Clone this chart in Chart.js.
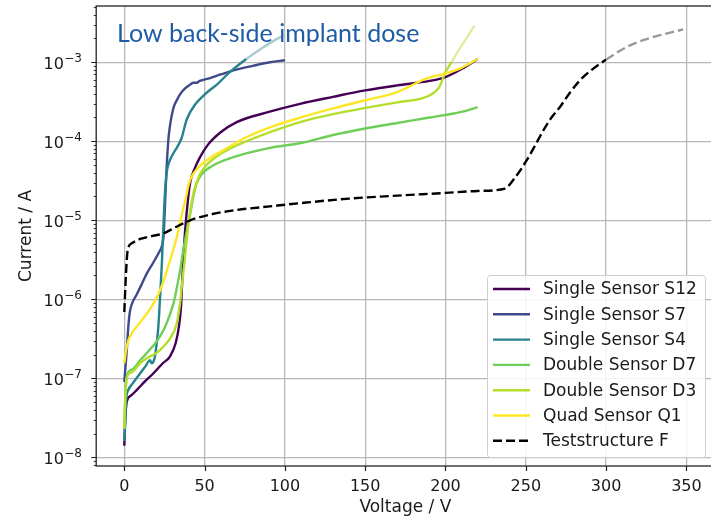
<!DOCTYPE html>
<html>
<head>
<meta charset="utf-8">
<script src="https://cdn.jsdelivr.net/npm/chart.js@4.4.1/dist/chart.umd.min.js"></script>
<style>
  html, body { margin: 0; padding: 0; background: #fff; overflow: hidden; }
  #ivChart { display: block; }
</style>
</head>
<body>
<canvas id="ivChart" width="720" height="518"></canvas>
<script>
// IV curves, voltage in V, current in A
const s12Voltage = [0, 0.4, 1.5, 4, 8, 13, 18, 24, 28.5, 32, 34, 35.3, 36, 37, 38.2, 39.5, 41, 44, 47, 52, 60, 70, 90, 110, 130, 150, 170, 190, 200, 210, 220]
const s12Current = [1.4e-8, 2.5e-8, 5e-8, 6e-8, 7.2e-8, 9.2e-8, 1.15e-7, 1.55e-7, 1.9e-7, 2.8e-7, 4.5e-7, 8e-7, 1.6e-6, 4e-6, 9e-6, 1.7e-5, 3e-5, 4.6e-5, 6.2e-5, 9e-5, 1.3e-4, 1.75e-4, 2.35e-4, 3e-4, 3.65e-4, 4.4e-4, 5.1e-4, 5.8e-4, 6.5e-4, 8.2e-4, 1.1e-3]

const s7Voltage = [0, 0.6, 1.5, 2.5, 3.5, 5, 7.7, 10.5, 13.9, 18, 21.2, 23.5, 24.5, 25.3, 26.2, 27.4, 28.5, 29.5, 31, 33, 35, 38, 40.9, 43, 45, 47, 53.4, 60, 67.9, 80, 90.7, 100]
const s7Current = [9e-8, 1.3e-7, 2.2e-7, 4.5e-7, 7e-7, 9e-7, 1.15e-6, 1.5e-6, 2.1e-6, 2.9e-6, 3.8e-6, 4.8e-6, 6.5e-6, 1.5e-5, 4e-5, 1.03e-4, 1.6e-4, 2.1e-4, 2.8e-4, 3.4e-4, 4e-4, 4.7e-4, 5.2e-4, 5.5e-4, 5.5e-4, 5.8e-4, 6.3e-4, 7e-4, 7.9e-4, 9e-4, 1.0e-3, 1.06e-3]

const s4Voltage = [0, 0.4, 1.2, 2.5, 5, 9.8, 13, 16, 17, 18, 19.1, 20.2, 21.2, 22.2, 23.3, 24.3, 25.3, 26.4, 28, 30.5, 33, 35.7, 38.9, 44, 50, 58, 66, 76, 86.6, 99]
const s4Current = [1.6e-8, 2.3e-8, 5.5e-8, 7.1e-8, 8.5e-8, 1.15e-7, 1.4e-7, 1.7e-7, 1.55e-7, 1.6e-7, 1.9e-7, 2.8e-7, 4.5e-7, 1e-6, 2.6e-6, 8e-6, 2.2e-5, 4e-5, 5.5e-5, 7e-5, 8.5e-5, 1.1e-4, 1.9e-4, 2.9e-4, 3.9e-4, 5.3e-4, 7.6e-4, 1.1e-3, 1.55e-3, 2.2e-3]

const d7Voltage = [0, 0.5, 1.5, 5, 10, 15, 20, 25, 28.5, 31, 33, 35, 37, 39, 41, 43, 45, 48, 55, 68, 90, 110, 130, 150, 170, 190, 200, 210, 220]
const d7Current = [2.3e-8, 5e-8, 1.05e-7, 1.3e-7, 1.7e-7, 2.2e-7, 2.9e-7, 4.3e-7, 6.5e-7, 9.5e-7, 1.5e-6, 2.5e-6, 4.5e-6, 7.5e-6, 1.2e-5, 2e-5, 2.9e-5, 3.8e-5, 4.9e-5, 6.3e-5, 8.2e-5, 9.5e-5, 1.2e-4, 1.45e-4, 1.7e-4, 2e-4, 2.15e-4, 2.35e-4, 2.7e-4]

const d3Voltage = [0, 0.5, 1.5, 5, 9.8, 15, 20.2, 25, 28.5, 32.6, 34.7, 36, 37.5, 39, 41, 43, 45, 47, 50, 57, 66, 90.7, 110, 130, 150, 170, 190, 196, 200, 204, 208, 213, 218]
const d3Current = [2.3e-8, 5e-8, 1e-7, 1.2e-7, 1.55e-7, 1.85e-7, 2.1e-7, 2.6e-7, 3.2e-7, 4.9e-7, 8.9e-7, 1.6e-6, 3e-6, 6e-6, 1.3e-5, 2.2e-5, 3e-5, 3.8e-5, 4.7e-5, 6.3e-5, 8.1e-5, 1.3e-4, 1.76e-4, 2.2e-4, 2.65e-4, 3.1e-4, 3.8e-4, 4.8e-4, 7.5e-4, 1.02e-3, 1.4e-3, 2e-3, 2.9e-3]

const q1Voltage = [0, 1, 2.5, 5, 7.7, 12, 16, 20.2, 24, 27, 30.5, 33, 35, 36.7, 38.5, 40, 42, 45, 50, 61.6, 75, 90.7, 110, 130, 150, 170, 188, 200, 210, 220]
const q1Current = [1.55e-7, 2.2e-7, 3e-7, 3.8e-7, 4.5e-7, 5.8e-7, 7.5e-7, 1.05e-6, 1.6e-6, 2.5e-6, 4.2e-6, 6.5e-6, 1e-5, 1.4e-5, 2e-5, 2.8e-5, 3.6e-5, 4.4e-5, 5.5e-5, 7.7e-5, 1.1e-4, 1.5e-4, 2e-4, 2.6e-4, 3.3e-4, 4.2e-4, 6.2e-4, 7.2e-4, 8.5e-4, 1.1e-3]

const testVoltage = [0, 1, 2.1, 4.6, 10, 17, 24.3, 32, 41, 55, 70, 90.7, 110, 140, 170, 200, 220, 237, 243, 250.6, 256, 261, 266, 271.3, 277, 283.7, 292, 300, 312.8, 323, 333.6, 348]
const testCurrent = [6.9e-7, 2e-6, 4.2e-6, 5.1e-6, 5.8e-6, 6.3e-6, 6.8e-6, 8.2e-6, 1e-5, 1.2e-5, 1.35e-5, 1.5e-5, 1.65e-5, 1.88e-5, 2.05e-5, 2.22e-5, 2.35e-5, 2.52e-5, 3.4e-5, 5.75e-5, 9e-5, 1.38e-4, 2e-4, 2.72e-4, 4e-4, 5.9e-4, 8.3e-4, 1.08e-3, 1.56e-3, 1.9e-3, 2.2e-3, 2.6e-3]

const xTickValues = [0, 50, 100, 150, 200, 250, 300, 350]
const yTickValues = [1e-8, 1e-7, 1e-6, 1e-5, 1e-4, 1e-3]

const FONT = 'DejaVu Sans'
const TEXT = '#1a1a1a'

const toPoints = (xs, ys) => xs.map((v, i) => ({ x: v, y: ys[i] }))

// faded part of a curve (beyond compliance), drawn lighter
const fadeSegment = (voltage, color) => ctx => (ctx.p0.parsed.x >= voltage ? color : undefined)

const datasets = [
	{ label: 'Single Sensor S12', data: toPoints(s12Voltage, s12Current), borderColor: '#440154' },
	{ label: 'Single Sensor S7', data: toPoints(s7Voltage, s7Current), borderColor: '#3e4a89' },
	{
		label: 'Single Sensor S4',
		data: toPoints(s4Voltage, s4Current),
		borderColor: '#26828e',
		segment: { borderColor: fadeSegment(76, '#a9cbd0') },
	},
	{ label: 'Double Sensor D7', data: toPoints(d7Voltage, d7Current), borderColor: '#6ece58' },
	{
		label: 'Double Sensor D3',
		data: toPoints(d3Voltage, d3Current),
		borderColor: '#b5de2b',
		segment: { borderColor: fadeSegment(204, '#dcef9e') },
	},
	{ label: 'Quad Sensor Q1', data: toPoints(q1Voltage, q1Current), borderColor: '#fde725' },
	{
		label: 'Teststructure F',
		data: toPoints(testVoltage, testCurrent),
		borderColor: '#000000',
		borderDash: [9, 4],
		segment: { borderColor: fadeSegment(300, '#999999') },
	},
]
datasets.forEach((ds, i) => {
	ds.order = datasets.length - i
})

// spines, tick marks and 10^n labels like matplotlib
const framePlugin = {
	id: 'frame',
	afterDraw(chart) {
		const { ctx, chartArea: a, scales } = chart
		const x = scales.x
		const y = scales.y
		ctx.save()
		ctx.strokeStyle = '#222'
		ctx.lineWidth = 1.2
		ctx.beginPath()
		xTickValues.forEach(v => {
			const px = Math.round(x.getPixelForValue(v)) + 0.5
			ctx.moveTo(px, a.bottom)
			ctx.lineTo(px, a.bottom + 5)
		})
		yTickValues.forEach(v => {
			const py = Math.round(y.getPixelForValue(v)) + 0.5
			ctx.moveTo(a.left - 5, py)
			ctx.lineTo(a.left, py)
		})
		ctx.stroke()
		ctx.lineWidth = 0.9
		ctx.beginPath()
		for (let e = -9; e <= -3; e++) {
			for (let m = 2; m <= 9; m++) {
				const v = m * Math.pow(10, e)
				if (v < y.min || v > y.max) continue
				const py = Math.round(y.getPixelForValue(v)) + 0.5
				ctx.moveTo(a.left - 2.5, py)
				ctx.lineTo(a.left, py)
			}
		}
		ctx.stroke()
		ctx.lineWidth = 1.3
		ctx.strokeRect(a.left, a.top, a.right - a.left, a.bottom - a.top)

		// y tick labels: 10 with raised exponent
		ctx.fillStyle = TEXT
		ctx.textAlign = 'right'
		ctx.textBaseline = 'alphabetic'
		yTickValues.forEach(v => {
			const py = y.getPixelForValue(v)
			const exp = '\u2212' + String(Math.abs(Math.round(Math.log10(v))))
			ctx.font = `12px "${FONT}"`
			const ew = ctx.measureText(exp).width
			ctx.fillText(exp, 82, py - 0.5)
			ctx.font = `16px "${FONT}"`
			ctx.fillText('10', 82 - ew - 0.5, py + 6.5)
		})
		ctx.restore()
	},
}

const notePlugin = {
	id: 'note',
	afterDraw(chart) {
		const { ctx } = chart
		ctx.save()
		ctx.font = '25px Lato'
		ctx.fillStyle = '#1f5ca6'
		ctx.textBaseline = 'alphabetic'
		ctx.fillText('Low back-side implant dose', 117, 42)
		ctx.restore()
	},
}

const legendPlugin = {
	id: 'boxLegend',
	afterDraw(chart) {
		const { ctx } = chart
		const left = 487
		const top = 275
		const w = 218
		const h = 182
		const rowH = 25.3
		ctx.save()
		ctx.fillStyle = 'rgba(255,255,255,0.85)'
		ctx.strokeStyle = '#d0d0d0'
		ctx.lineWidth = 1
		ctx.beginPath()
		ctx.roundRect(left + 0.5, top + 0.5, w, h, 3)
		ctx.fill()
		ctx.stroke()
		ctx.font = `17px "${FONT}"`
		ctx.textBaseline = 'middle'
		chart.data.datasets.forEach((ds, i) => {
			const cy = top + 14 + i * rowH
			ctx.strokeStyle = ds.borderColor
			ctx.lineWidth = 2.4
			ctx.setLineDash(ds.borderDash || [])
			ctx.beginPath()
			ctx.moveTo(left + 6, cy)
			ctx.lineTo(left + 43, cy)
			ctx.stroke()
			ctx.setLineDash([])
			ctx.fillStyle = TEXT
			ctx.fillText(ds.label, left + 56, cy + 1)
		})
		ctx.restore()
	},
}

const config = {
	type: 'line',
	data: { datasets },
	options: {
		responsive: false,
		animation: false,
		layout: { padding: { left: 0, top: 6, right: 5.5, bottom: 0 } },
		plugins: { legend: { display: false }, tooltip: { enabled: false } },
		elements: {
			point: { radius: 0 },
			line: { borderWidth: 2.4, cubicInterpolationMode: 'monotone', fill: false },
		},
		scales: {
			x: {
				type: 'linear',
				min: -17.5,
				max: 367.5,
				afterBuildTicks: s => {
					s.ticks = xTickValues.map(v => ({ value: v }))
				},
				afterFit: s => {
					s.height = 52
					s.paddingLeft = 0
					s.paddingRight = 0
				},
				grid: { color: '#b8b8b8', lineWidth: 1.3, drawTicks: false },
				border: { display: false },
				ticks: {
					padding: 11,
					color: TEXT,
					autoSkip: false,
					maxRotation: 0,
					font: { family: FONT, size: 16 },
					callback: v => String(v),
				},
				title: {
					display: true,
					text: 'Voltage / V',
					color: TEXT,
					font: { family: FONT, size: 17 },
					padding: { top: 0, bottom: 0 },
				},
			},
			y: {
				type: 'logarithmic',
				min: 7.76e-9,
				max: 5.15e-3,
				afterBuildTicks: s => {
					s.ticks = yTickValues.map(v => ({ value: v, major: true }))
				},
				afterFit: s => {
					s.width = 96.2
					s.paddingTop = 0
					s.paddingBottom = 0
				},
				grid: { color: '#b8b8b8', lineWidth: 1.3, drawTicks: false },
				border: { display: false },
				ticks: { display: false },
				title: {
					display: true,
					text: 'Current / A',
					color: TEXT,
					font: { family: FONT, size: 17 },
					padding: { top: 16, bottom: 0 },
				},
			},
		},
	},
	plugins: [framePlugin, notePlugin, legendPlugin],
}

const canvaRef = document.querySelector('#ivChart')
const ivChart = new Chart(canvaRef, config)
</script>
</body>
</html>
